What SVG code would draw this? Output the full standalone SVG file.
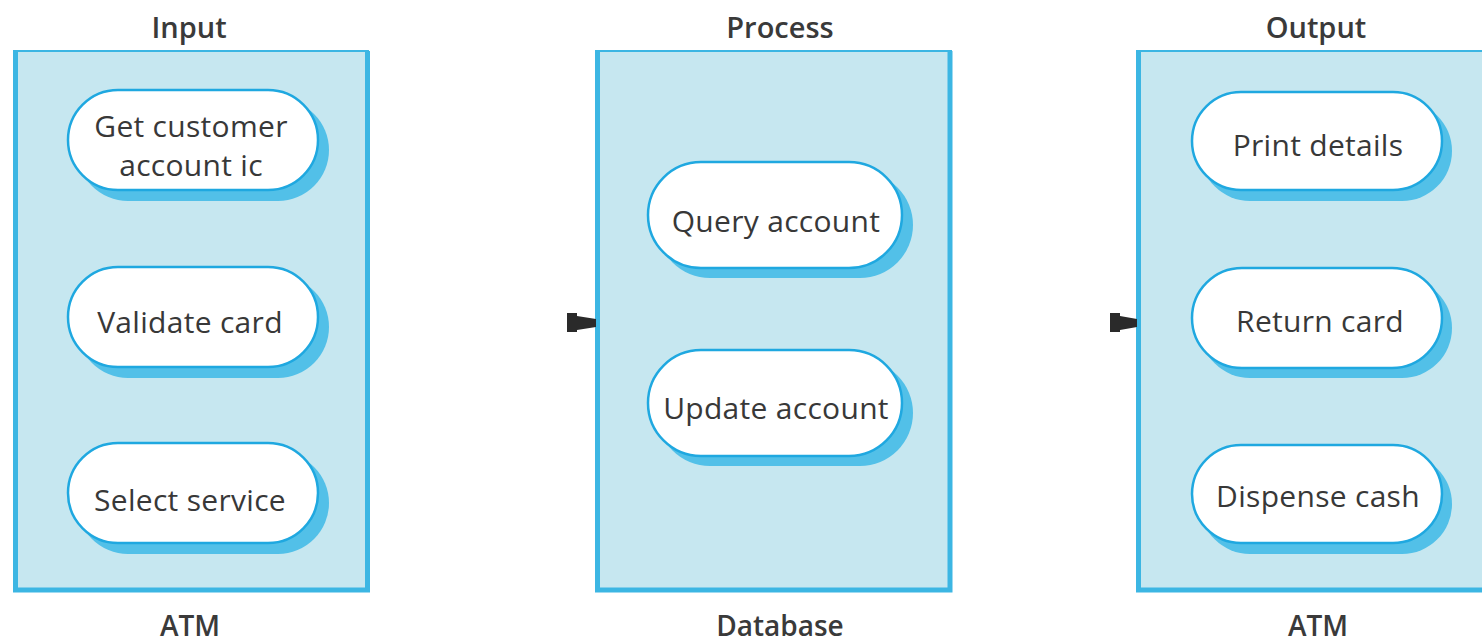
<svg xmlns="http://www.w3.org/2000/svg" width="1482" height="644" viewBox="0 0 1482 644">
  <style>
    .panel { fill: #c6e7f0; stroke: #3cb6e3; stroke-width: 2; }
    .edge { stroke: #3cb6e3; stroke-width: 5; fill: none; }
    .shadow { fill: #52c0e8; }
    .pill { fill: #ffffff; stroke: #1fa8e0; stroke-width: 2.5; }
    .lbl { font-family: "Open Sans", "Noto Sans", sans-serif; font-size: 30px; letter-spacing: 0.3px; fill: #383838; text-anchor: middle; }
    .head { font-family: "Open Sans", "Noto Sans", sans-serif; font-size: 29px; font-weight: 600; fill: #3a3a3a; text-anchor: middle; }
    .foot { font-family: "Open Sans", "Noto Sans", sans-serif; font-size: 28px; font-weight: 600; fill: #3a3a3a; text-anchor: middle; }
    .arrow { fill: #2a2a2a; }
  </style>

  <!-- Input column (ATM) -->
  <g id="input">
    <text class="head" x="189" y="38">Input</text>
    <rect class="panel" x="14" y="51" width="354" height="539"/>
    <path class="edge" d="M15.5 51 V590 H367.5 V51"/>
    <text class="foot" x="190" y="636">ATM</text>
  </g>

  <!-- Process column (Database) -->
  <g id="process">
    <text class="head" x="780" y="38">Process</text>
    <rect class="panel" x="596" y="51" width="355" height="539"/>
    <path class="edge" d="M597.5 51 V590 H950 V51"/>
    <text class="foot" x="780" y="636">Database</text>
  </g>

  <!-- Output column (ATM) -->
  <g id="output">
    <text class="head" x="1316" y="38">Output</text>
    <rect class="panel" x="1137" y="51" width="346" height="539"/>
    <path class="edge" d="M1138.5 51 V590 H1482"/>
    <text class="foot" x="1318" y="636">ATM</text>
  </g>

  <!-- Input actions -->
  <g id="get-account">
    <rect class="shadow" x="77" y="99" width="252" height="102" rx="51"/>
    <rect class="pill" x="68" y="90" width="250" height="100" rx="50"/>
    <text class="lbl" x="191" y="137">Get customer</text>
    <text class="lbl" x="191" y="176">account ic</text>
  </g>
  <g id="validate-card">
    <rect class="shadow" x="77" y="276" width="252" height="102" rx="51"/>
    <rect class="pill" x="68" y="267" width="250" height="100" rx="50"/>
    <text class="lbl" x="190" y="333">Validate card</text>
  </g>
  <g id="select-service">
    <rect class="shadow" x="77" y="452" width="252" height="102" rx="51"/>
    <rect class="pill" x="68" y="443" width="250" height="100" rx="50"/>
    <text class="lbl" x="190" y="511">Select service</text>
  </g>

  <!-- Process actions -->
  <g id="query-account">
    <rect class="shadow" x="657" y="172" width="256" height="106" rx="53"/>
    <rect class="pill" x="648" y="162" width="254" height="106" rx="53"/>
    <text class="lbl" x="776" y="232">Query account</text>
  </g>
  <g id="update-account">
    <rect class="shadow" x="657" y="360" width="256" height="106" rx="53"/>
    <rect class="pill" x="648" y="350" width="254" height="106" rx="53"/>
    <text class="lbl" x="776" y="419">Update account</text>
  </g>

  <!-- Output actions -->
  <g id="print-details">
    <rect class="shadow" x="1200" y="101" width="252" height="100" rx="50"/>
    <rect class="pill" x="1192" y="92" width="250" height="98" rx="49"/>
    <text class="lbl" x="1318" y="156">Print details</text>
  </g>
  <g id="return-card">
    <rect class="shadow" x="1200" y="278" width="252" height="100" rx="50"/>
    <rect class="pill" x="1192" y="268" width="250" height="100" rx="50"/>
    <text class="lbl" x="1320" y="332">Return card</text>
  </g>
  <g id="dispense-cash">
    <rect class="shadow" x="1200" y="454" width="252" height="100" rx="50"/>
    <rect class="pill" x="1192" y="445" width="250" height="98" rx="49"/>
    <text class="lbl" x="1318" y="507">Dispense cash</text>
  </g>

  <!-- Flow arrowheads into the Process and Output columns -->
  <g id="connectors">
    <path class="arrow" d="M567 313 L577 313 L577 316 L596 319 L596 327 L577 330 L577 332 L567 332 Z"/>
    <path class="arrow" d="M1110 313 L1120 313 L1120 316 L1137 319 L1137 327 L1120 330 L1120 332 L1110 332 Z"/>
  </g>
</svg>
